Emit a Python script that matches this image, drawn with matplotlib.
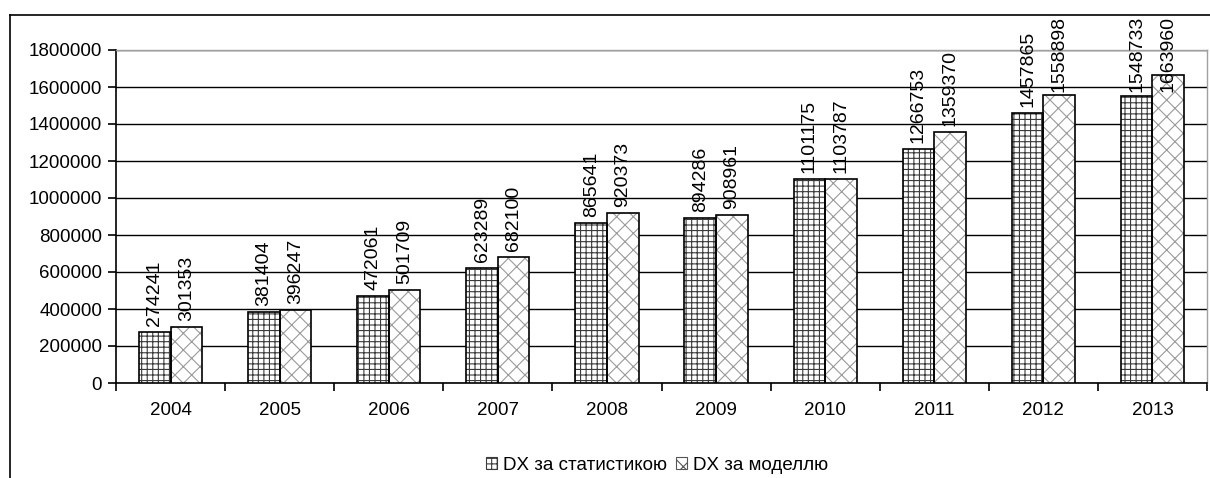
import numpy as np
import matplotlib
matplotlib.use("Agg")
import matplotlib.pyplot as plt
from matplotlib.lines import Line2D
from matplotlib.patches import Patch

years = ['2004', '2005', '2006', '2007', '2008', '2009', '2010', '2011', '2012', '2013']
dx_stat = [274241, 381404, 472061, 623289, 865641, 894286, 1101175, 1266753, 1457865, 1548733]
dx_model = [301353, 396247, 501709, 682100, 920373, 908961, 1103787, 1359370, 1558898, 1663960]
series_names = ['DX за статистикою', 'DX за моделлю']

plt.rcParams['font.family'] = ['Liberation Sans', 'DejaVu Sans']
plt.rcParams['hatch.linewidth'] = 0.8

fig = plt.figure(figsize=(12.10, 4.78), dpi=100)
ax = fig.add_axes([116 / 1210, 1 - 383 / 478, (1207 - 116) / 1210, (383 - 50) / 478])

x = np.arange(len(years))
w = 0.29
ymax = 1800000

# hatched fill first, black outline on top
ax.bar(x - w / 2, dx_stat, w, color='white', hatch='+++', edgecolor='#3a3a3a', linewidth=0, zorder=3)
ax.bar(x + w / 2, dx_model, w, color='white', hatch='xx', edgecolor='#9a9a9a', linewidth=0, zorder=3)
ax.bar(x - w / 2, dx_stat, w, fill=False, edgecolor='black', linewidth=1.2, zorder=4)
ax.bar(x + w / 2, dx_model, w, fill=False, edgecolor='black', linewidth=1.2, zorder=4)

# value labels, pushed down when they would run past the top of the chart
per_px = ymax / 333.0
lab_h = 72 * per_px
top_lim = 363 * per_px
for xs, vals in ((x - w / 2, dx_stat), (x + w / 2, dx_model)):
    for xi, v in zip(xs, vals):
        yb = min(v + 6 * per_px, top_lim - lab_h)
        ax.text(xi, yb, str(v), rotation=90, ha='center', va='bottom',
                fontsize=14, color='black', zorder=5, clip_on=False)

ax.set_ylim(0, ymax)
ax.set_xlim(-0.5, len(years) - 0.5)
ax.set_yticks(np.arange(0, ymax + 1, 200000))
ax.set_yticklabels([str(v) for v in range(0, ymax + 1, 200000)], fontsize=13.5)
ax.yaxis.grid(True, color='black', linewidth=1.0, zorder=0)
ax.set_axisbelow(True)

ax.set_xticks(np.arange(-0.5, len(years), 1.0))
ax.set_xticklabels([])
ax.set_xticks(x, minor=True)
ax.set_xticklabels(years, minor=True, fontsize=13.5)
ax.tick_params(axis='x', which='minor', length=0, pad=14)
ax.tick_params(axis='x', which='major', direction='out', length=6, width=1.2)
ax.tick_params(axis='y', direction='out', length=6, width=1.2, pad=4)

for s in ('top', 'right'):
    ax.spines[s].set_color('#a0a0a0')
    ax.spines[s].set_linewidth(1.0)
for s in ('left', 'bottom'):
    ax.spines[s].set_color('black')
    ax.spines[s].set_linewidth(1.2)

# outer chart frame
fig.add_artist(Line2D([10 / 1210, 10 / 1210], [0, 1 - 15 / 478], color='black', linewidth=1.2))
fig.add_artist(Line2D([10 / 1210, 1], [1 - 15 / 478, 1 - 15 / 478], color='black', linewidth=1.2))

handles = [Patch(facecolor='white', hatch='+++', edgecolor='#3a3a3a', linewidth=0.8),
           Patch(facecolor='white', hatch='xx', edgecolor='#555555', linewidth=0.8)]
fig.legend(handles, series_names, loc='center', bbox_to_anchor=(657 / 1210, 1 - 465 / 478),
           ncol=2, frameon=False, fontsize=13.5, handlelength=0.6, handleheight=0.6,
           handletextpad=0.3, columnspacing=0.5)

fig.savefig('out.png', dpi=100)
